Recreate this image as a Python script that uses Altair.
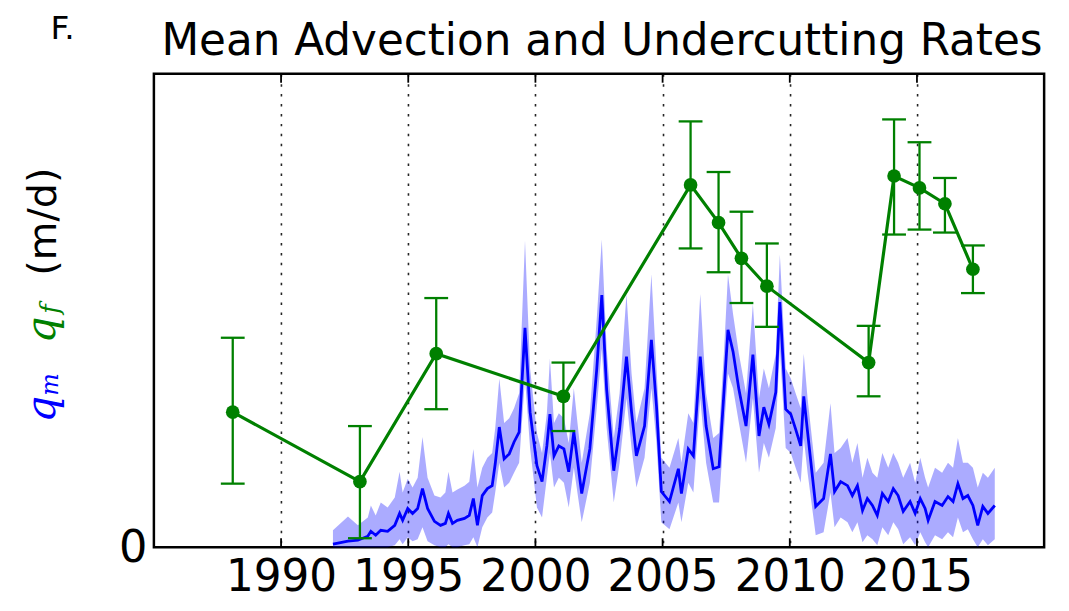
import altair as alt
import pandas as pd

# ---- q_m (advection) time series: decimal year, mean, upper band, lower band ----
qm_year = [1992.04, 1992.63, 1993.02, 1993.41, 1993.53, 1993.72, 1993.92, 1994.19, 1994.47, 1994.66,
           1994.78, 1994.98, 1995.17, 1995.37, 1995.56, 1995.76, 1996.03, 1996.27, 1996.46, 1996.58,
           1996.74, 1996.93, 1997.21, 1997.40, 1997.56, 1997.72, 1997.91, 1998.11, 1998.30, 1998.42,
           1998.58, 1998.77, 1998.97, 1999.16, 1999.36, 1999.59, 1999.79, 2000.06, 2000.26, 2000.45,
           2000.57, 2000.73, 2000.92, 2001.12, 2001.31, 2001.51, 2001.82, 2002.14, 2002.41, 2002.61,
           2002.80, 2003.08, 2003.31, 2003.58, 2003.78, 2003.97, 2004.29, 2004.56, 2004.76, 2004.95,
           2005.27, 2005.62, 2005.74, 2006.01, 2006.21, 2006.48, 2006.71, 2006.99, 2007.22, 2007.42,
           2007.57, 2007.77, 2008.00, 2008.28, 2008.55, 2008.79, 2008.98, 2009.18, 2009.45, 2009.61,
           2009.84, 2010.04, 2010.23, 2010.43, 2010.55, 2010.70, 2011.02, 2011.33, 2011.60, 2011.76,
           2012.00, 2012.27, 2012.46, 2012.66, 2012.86, 2013.05, 2013.25, 2013.44, 2013.64, 2013.87,
           2014.07, 2014.26, 2014.46, 2014.73, 2014.93, 2015.13, 2015.32, 2015.44, 2015.71, 2015.99,
           2016.22, 2016.42, 2016.61, 2016.81, 2017.00, 2017.20, 2017.39, 2017.59, 2017.79, 2018.06]
qm_mean = [0.03, 0.06, 0.07, 0.11, 0.16, 0.12, 0.17, 0.16, 0.22, 0.34,
           0.27, 0.39, 0.34, 0.39, 0.59, 0.39, 0.26, 0.22, 0.24, 0.34,
           0.24, 0.27, 0.29, 0.32, 0.49, 0.22, 0.52, 0.59, 0.62, 0.84,
           1.21, 0.89, 0.94, 1.06, 1.16, 2.21, 1.36, 0.82, 0.66, 1.02,
           1.34, 0.92, 1.02, 0.99, 0.76, 1.16, 0.54, 0.99, 1.79, 2.54,
           1.59, 0.77, 1.19, 1.92, 1.36, 0.92, 1.22, 2.09, 1.42, 0.56,
           0.46, 0.79, 0.54, 0.99, 0.92, 1.92, 1.22, 0.79, 0.81, 1.59,
           2.19, 1.97, 1.59, 1.22, 1.94, 1.12, 1.41, 1.24, 1.56, 2.47,
           1.39, 1.34, 1.19, 1.02, 1.52, 1.16, 0.41, 0.49, 0.94, 0.56,
           0.66, 0.62, 0.52, 0.62, 0.37, 0.49, 0.42, 0.32, 0.54, 0.46,
           0.59, 0.52, 0.36, 0.46, 0.34, 0.49, 0.39, 0.27, 0.46, 0.42,
           0.51, 0.46, 0.64, 0.49, 0.52, 0.42, 0.22, 0.41, 0.34, 0.42]
qm_upper = [0.17, 0.31, 0.22, 0.30, 0.42, 0.32, 0.45, 0.40, 0.50, 0.76,
            0.55, 0.69, 0.60, 0.70, 1.11, 0.70, 0.52, 0.50, 0.55, 0.76,
            0.55, 0.58, 0.62, 0.66, 0.99, 0.60, 0.80, 0.90, 0.95, 1.20,
            1.70, 1.25, 1.30, 1.40, 1.55, 3.09, 1.80, 1.15, 0.95, 1.35,
            1.90, 1.25, 1.35, 1.30, 1.05, 1.60, 0.85, 1.35, 2.30, 3.10,
            2.00, 1.10, 1.55, 2.55, 1.75, 1.25, 1.60, 2.75, 1.80, 0.90,
            0.80, 1.10, 0.85, 1.35, 1.25, 2.55, 1.55, 1.10, 1.15, 2.00,
            2.75, 2.35, 1.95, 1.55, 2.45, 1.50, 1.80, 1.60, 1.95, 2.95,
            1.80, 1.70, 1.55, 1.40, 1.95, 1.50, 0.75, 0.85, 1.45, 0.95,
            1.00, 1.10, 0.85, 1.05, 0.70, 0.90, 0.75, 0.70, 0.95, 0.80,
            0.95, 0.85, 0.70, 0.85, 0.65, 0.90, 0.70, 0.60, 0.80, 0.75,
            0.85, 0.80, 1.10, 0.85, 0.85, 0.80, 0.60, 0.75, 0.70, 0.80]
qm_lower = [0.00, 0.00, 0.00, 0.00, 0.00, 0.00, 0.00, 0.00, 0.02, 0.08,
            0.03, 0.10, 0.06, 0.08, 0.20, 0.06, 0.02, 0.00, 0.00, 0.03,
            0.00, 0.00, 0.02, 0.03, 0.10, 0.00, 0.20, 0.30, 0.35, 0.55,
            0.85, 0.60, 0.65, 0.75, 0.85, 1.70, 1.00, 0.40, 0.30, 0.70,
            0.95, 0.60, 0.70, 0.65, 0.40, 0.80, 0.25, 0.65, 1.40, 2.00,
            1.20, 0.45, 0.85, 1.50, 1.00, 0.60, 0.90, 1.60, 1.05, 0.25,
            0.18, 0.45, 0.25, 0.65, 0.55, 1.50, 0.85, 0.45, 0.45, 1.20,
            1.75, 1.60, 1.25, 0.85, 1.50, 0.75, 1.05, 0.90, 1.20, 2.00,
            1.00, 0.95, 0.80, 0.65, 1.10, 0.75, 0.12, 0.15, 0.55, 0.20,
            0.30, 0.25, 0.15, 0.25, 0.05, 0.12, 0.08, 0.02, 0.20, 0.12,
            0.25, 0.18, 0.03, 0.10, 0.02, 0.15, 0.05, 0.00, 0.12, 0.08,
            0.15, 0.10, 0.30, 0.15, 0.18, 0.08, 0.00, 0.08, 0.02, 0.08]

# ---- q_f (undercutting) survey values with error bars ----
qf_year = [1988.1, 1993.1, 1996.1, 2001.1, 2006.1, 2007.2, 2008.1, 2009.1, 2013.1, 2014.1, 2015.1, 2016.1, 2017.2]
qf_mean = [1.36, 0.66, 1.95, 1.52, 3.65, 3.27, 2.91, 2.63, 1.86, 3.74, 3.62, 3.46, 2.80]
qf_upper = [2.11, 1.22, 2.51, 1.86, 4.29, 3.78, 3.38, 3.06, 2.23, 4.31, 4.08, 3.72, 3.04]
qf_lower = [0.64, 0.09, 1.39, 1.17, 3.01, 2.77, 2.46, 2.22, 1.52, 3.15, 3.20, 3.17, 2.56]

tick_years = [1990, 1995, 2000, 2005, 2010, 2015]
y_ticks = [0]
title_text = "Mean Advection and Undercutting Rates"

W, H = 897, 477
BLUE = "#0000ff"
GREEN = "#008000"

qm = pd.DataFrame({"year": qm_year, "v": qm_mean, "hi": qm_upper, "lo": qm_lower})
qf = pd.DataFrame({"year": qf_year, "v": qf_mean, "hi": qf_upper, "lo": qf_lower})
ticks = pd.DataFrame({"year": tick_years})

xs = alt.Scale(domain=[1985, 2020], nice=False, zero=False)
ys = alt.Scale(domain=[0, 4.77], nice=False, zero=True)

x_axis = alt.Axis(values=tick_years, format="d", title=None, labelFontSize=44,
                  labelFont="DejaVu Sans", labelColor="black", labelPadding=9,
                  ticks=False, domain=False, grid=True, gridColor="black",
                  gridDash=[2.5, 7.5], gridWidth=1.6, gridOpacity=0.85,
                  labelFlush=False, labelOverlap=False)
y_axis = alt.Axis(values=y_ticks, title=None, labelFontSize=45, labelFont="DejaVu Sans",
                  labelColor="black", labelPadding=7, ticks=False, domain=False, grid=False)


def X(field):
    return alt.X(field, scale=xs, axis=x_axis)


def Y(field):
    return alt.Y(field, scale=ys, axis=y_axis)


band = alt.Chart(qm).mark_area(color=BLUE, opacity=0.33).encode(
    x=X("year:Q"), y=Y("lo:Q"), y2="hi:Q")
line_m = alt.Chart(qm).mark_line(color=BLUE, strokeWidth=2.8).encode(
    x=X("year:Q"), y=Y("v:Q"))
line_f = alt.Chart(qf).mark_line(color=GREEN, strokeWidth=3.2).encode(
    x=X("year:Q"), y=Y("v:Q"))
err = alt.Chart(qf).mark_rule(color=GREEN, strokeWidth=2.3).encode(
    x=X("year:Q"), y=Y("lo:Q"), y2="hi:Q")
cap_hi = alt.Chart(qf).mark_tick(color=GREEN, orient="horizontal", size=24, thickness=2.3, opacity=1).encode(
    x=X("year:Q"), y=Y("hi:Q"))
cap_lo = alt.Chart(qf).mark_tick(color=GREEN, orient="horizontal", size=24, thickness=2.3, opacity=1).encode(
    x=X("year:Q"), y=Y("lo:Q"))
pts = alt.Chart(qf).mark_point(color=GREEN, filled=True, size=190, opacity=1).encode(
    x=X("year:Q"), y=Y("v:Q"))

# inward tick marks on top and bottom frame
tick_top = alt.Chart(ticks).mark_rule(color="black", strokeWidth=1.8).encode(
    x=X("year:Q"), y=alt.value(0), y2=alt.value(9))
tick_bot = alt.Chart(ticks).mark_rule(color="black", strokeWidth=1.8).encode(
    x=X("year:Q"), y=alt.value(H - 9), y2=alt.value(H))


# annotations: title, panel letter and coloured y-axis label
def txt(s, x, y, size, color="black", font="DejaVu Sans", style="normal", angle=0, baseline="middle"):
    return alt.Chart(pd.DataFrame({"t": [s]})).mark_text(
        fontSize=size, font=font, fontStyle=style, color=color, angle=angle,
        align="center", baseline=baseline).encode(
        x=alt.value(x), y=alt.value(y), text="t:N")


title = txt(title_text, W / 2 + 3, -19, 44, baseline="alphabetic")
panel = txt("F.", -92, -35, 33, baseline="alphabetic")
ylab_unit = txt("(m/d)", -111, 149, 40, angle=270)
ylab_qf = txt("q", -113, 258, 42, color=GREEN, font="DejaVu Serif", style="italic", angle=270)
ylab_qf_sub = txt("f", -104, 237, 26, color=GREEN, font="DejaVu Serif", style="italic", angle=270)
ylab_qm = txt("q", -113, 338, 42, color=BLUE, font="DejaVu Serif", style="italic", angle=270)
ylab_qm_sub = txt("m", -104, 313, 24, color=BLUE, font="DejaVu Serif", style="italic", angle=270)

chart = alt.layer(
    band, line_m, line_f, err, cap_hi, cap_lo, pts, tick_top, tick_bot,
    title, panel, ylab_unit, ylab_qf, ylab_qf_sub, ylab_qm, ylab_qm_sub,
).properties(
    width=W, height=H,
    autosize=alt.AutoSizeParams(type="none"),
    padding={"left": 147, "top": 64, "right": 17, "bottom": 54},
    background="white",
).configure_view(
    stroke="black", strokeWidth=2.5
)

chart.save("out.html", embed_options={"renderer": "svg", "actions": False})
